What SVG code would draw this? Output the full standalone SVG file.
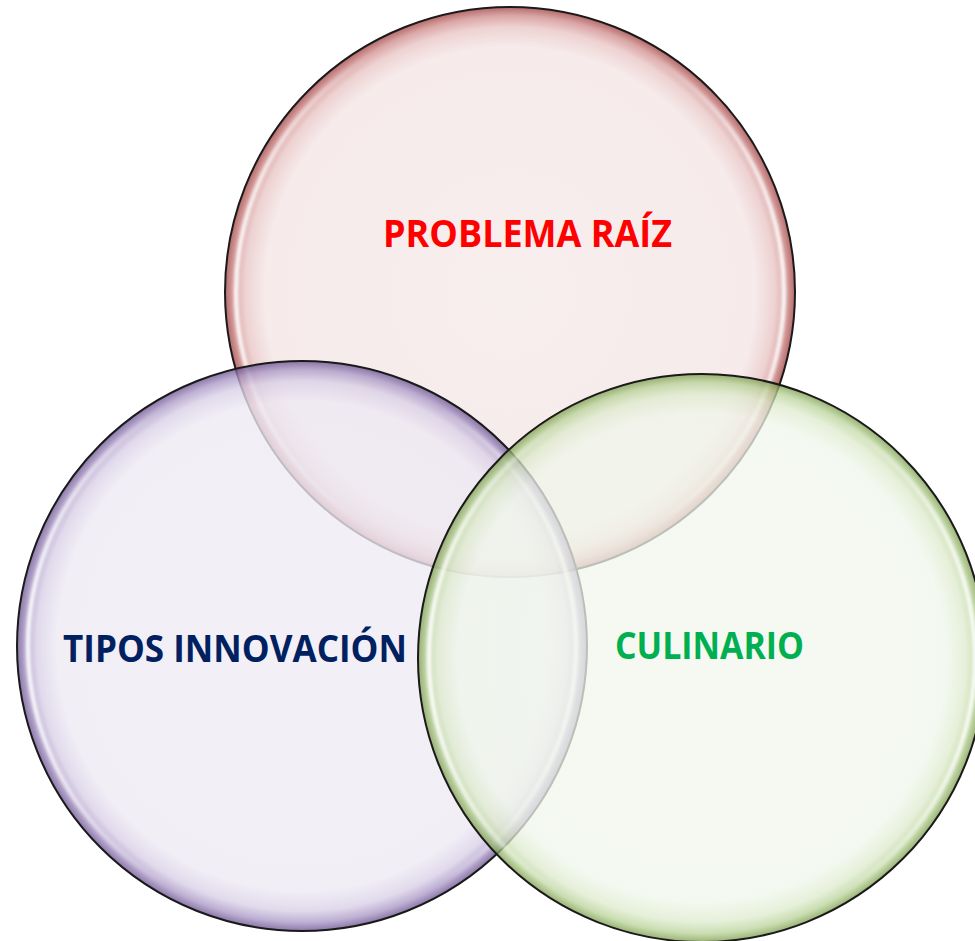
<svg xmlns="http://www.w3.org/2000/svg" width="975" height="941" viewBox="0 0 975 941">
<style>
.ring{stroke:#1a1a1a;stroke-width:2}
.hl{fill:none;stroke:url(#hlg);stroke-width:4;filter:url(#blur)}
.lbl{font-family:"Open Sans","Liberation Sans",sans-serif;font-weight:700;font-size:37px}
</style>
<defs>
<radialGradient id="gRed" cx="0.5" cy="0.5" r="0.5">
<stop offset="0" stop-color="#F6EBEB"/>
<stop offset="0.86" stop-color="#F5E7E7"/>
<stop offset="0.93" stop-color="#EBCACA"/>
<stop offset="0.97" stop-color="#D49696"/>
<stop offset="1" stop-color="#A85050"/>
</radialGradient>
<radialGradient id="gPur" cx="0.5" cy="0.5" r="0.5">
<stop offset="0" stop-color="#EFECF4"/>
<stop offset="0.86" stop-color="#EDE9F3"/>
<stop offset="0.93" stop-color="#D8CFE6"/>
<stop offset="0.97" stop-color="#AA98C6"/>
<stop offset="1" stop-color="#6A5290"/>
</radialGradient>
<radialGradient id="gGrn" cx="0.5" cy="0.5" r="0.5">
<stop offset="0" stop-color="#F2F7EE"/>
<stop offset="0.86" stop-color="#F0F6EB"/>
<stop offset="0.93" stop-color="#DDEACC"/>
<stop offset="0.97" stop-color="#B7D296"/>
<stop offset="1" stop-color="#789A48"/>
</radialGradient>
<linearGradient id="hlg" x1="0" y1="0" x2="1" y2="0">
<stop offset="0" stop-color="#ffffff" stop-opacity="0.95"/>
<stop offset="0.25" stop-color="#ffffff" stop-opacity="0"/>
<stop offset="0.75" stop-color="#ffffff" stop-opacity="0"/>
<stop offset="1" stop-color="#ffffff" stop-opacity="0.95"/>
</linearGradient>
<filter id="blur" x="-10%" y="-10%" width="120%" height="120%"><feGaussianBlur stdDeviation="1.5"/></filter>
</defs>
<g id="problema-raiz">
<circle cx="510" cy="292" r="285" fill="url(#gRed)" fill-opacity="0.85" class="ring"/>
<circle cx="510" cy="292" r="274" class="hl"/>
<text class="lbl" x="383" y="247" fill="#FF0000" textLength="289" lengthAdjust="spacingAndGlyphs">PROBLEMA RAÍZ</text>
</g>
<g id="tipos-innovacion">
<circle cx="302" cy="646" r="285" fill="url(#gPur)" fill-opacity="0.78" class="ring"/>
<circle cx="302" cy="646" r="274" class="hl"/>
<text class="lbl" x="63" y="662" fill="#002060" textLength="344" lengthAdjust="spacingAndGlyphs">TIPOS INNOVACIÓN</text>
</g>
<g id="culinario">
<circle cx="702" cy="658" r="284" fill="url(#gGrn)" fill-opacity="0.75" class="ring"/>
<circle cx="702" cy="658" r="273" class="hl"/>
<text class="lbl" x="615" y="659" fill="#00B050" textLength="189" lengthAdjust="spacingAndGlyphs">CULINARIO</text>
</g>
<g id="connectors"/>
</svg>
